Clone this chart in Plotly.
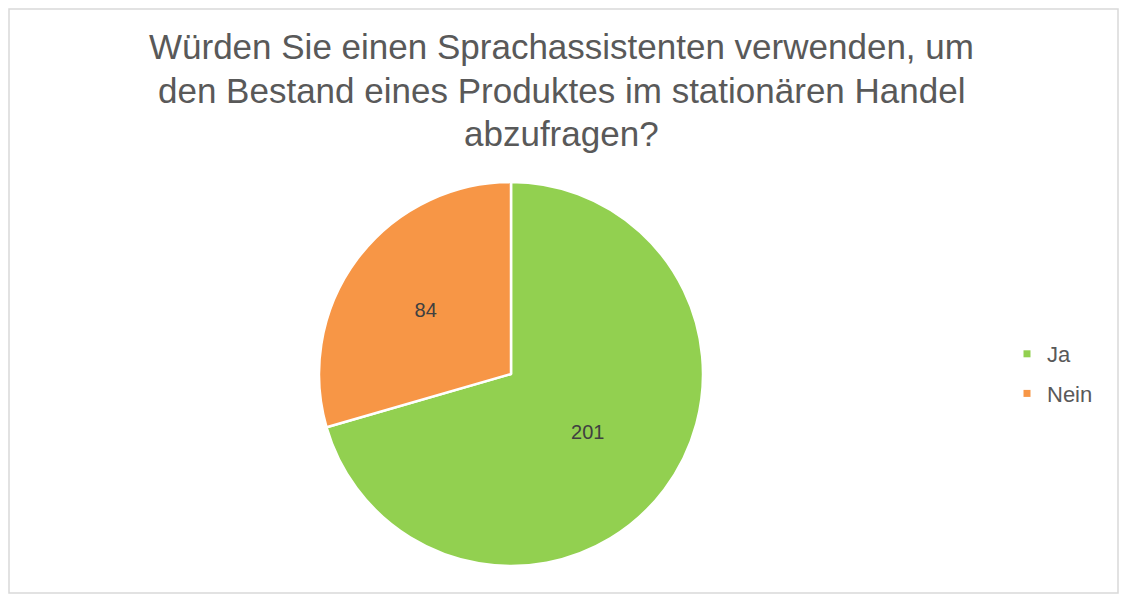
import plotly.graph_objects as go

labels = ["Ja", "Nein"]
values = [201, 84]
colors = ["#92D050", "#F79646"]

title_lines = [
    "Würden Sie einen Sprachassistenten verwenden, um",
    "den Bestand eines Produktes im stationären Handel",
    "abzufragen?",
]

W, H = 1127, 604
OFF = 8  # page body margin


def px(x):
    return (x - OFF) / W


def py(y):
    return 1 - (y - OFF) / H


FONT = "Liberation Sans, Arial"

fig = go.Figure()
fig.add_trace(go.Pie(
    labels=labels,
    values=values,
    marker=dict(colors=colors, line=dict(color="white", width=2.5)),
    sort=False,
    direction="clockwise",
    rotation=0,
    textinfo="value",
    textposition="inside",
    insidetextorientation="horizontal",
    textfont=dict(family=FONT, size=20, color="#404040"),
    domain=dict(x=[px(319), px(703)], y=[py(566), py(182)]),
    hoverinfo="label+value",
    showlegend=False,
))

# legend entries
for lab, col in zip(labels, colors):
    fig.add_trace(go.Scatter(
        x=[None], y=[None], mode="markers", name=lab, legendgroup=lab,
        marker=dict(symbol="square", size=7, color=col),
        showlegend=True, hoverinfo="skip",
    ))

annotations = []
for line, yc in zip(title_lines, [47, 91, 133]):
    annotations.append(dict(
        text=line, x=px(561), y=py(yc), xref="paper", yref="paper",
        xanchor="center", yanchor="middle", showarrow=False,
        font=dict(family=FONT, size=35, color="#595959"),
    ))

fig.update_layout(
    width=W,
    height=H,
    margin=dict(l=0, r=0, t=0, b=0),
    paper_bgcolor="white",
    plot_bgcolor="white",
    font=dict(family=FONT, color="#595959"),
    xaxis=dict(visible=False),
    yaxis=dict(visible=False),
    annotations=annotations,
    legend=dict(
        x=px(1007),
        y=py(374),
        xanchor="left",
        yanchor="middle",
        font=dict(family=FONT, size=22, color="#595959"),
        tracegroupgap=8,
        itemwidth=30,
        bgcolor="rgba(0,0,0,0)",
    ),
    shapes=[dict(
        type="rect", xref="paper", yref="paper",
        x0=1 / W, x1=px(1118), y0=py(593), y1=1 - 1 / H,
        line=dict(color="#d9d9d9", width=1.5),
        fillcolor="rgba(0,0,0,0)",
        layer="below",
    )],
)

fig.write_html("out.html")
